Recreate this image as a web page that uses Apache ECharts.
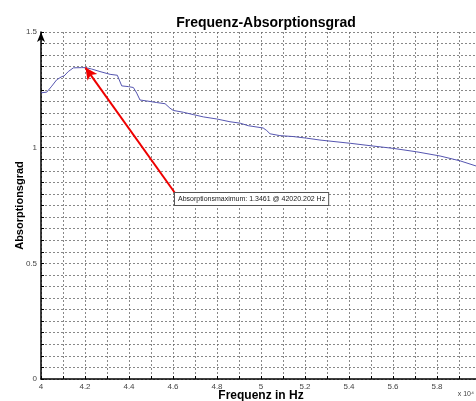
<!DOCTYPE html>
<html>
<head>
<meta charset="utf-8">
<script src="https://cdn.jsdelivr.net/npm/echarts@6/dist/echarts.min.js"></script>
<style>html,body{margin:0;padding:0;background:#fff;}#c{width:476px;height:401px;}</style>
</head>
<body>
<div id="c"></div>
<script>
// frequency in units of 10^4 Hz
const freq = [4.000,4.008,4.026,4.049,4.071,4.094,4.105,4.124,4.147,4.185,4.202,4.230,4.268,4.314,4.347,4.367,4.397,4.420,4.435,4.450,4.480,4.526,4.564,4.586,4.601,4.647,4.692,4.738,4.799,4.859,4.905,4.942,5.010,5.026,5.041,5.086,5.147,5.208,5.268,5.405,5.510,5.601,5.708,5.814,5.905,5.977,6.000];
const absorption = [1.237,1.237,1.240,1.266,1.293,1.307,1.310,1.329,1.345,1.346,1.3461,1.340,1.329,1.317,1.313,1.267,1.264,1.260,1.236,1.206,1.202,1.195,1.190,1.171,1.161,1.153,1.143,1.133,1.124,1.112,1.106,1.095,1.085,1.074,1.060,1.052,1.048,1.041,1.033,1.019,1.007,0.997,0.982,0.964,0.943,0.921,0.913];
const peak = [4.2020202, 1.3461];
const annotAnchor = [4.609, 0.804];
const annotText = 'Absorptionsmaximum: 1.3461 @ 42020.202 Hz';
const xTicks = [4,4.2,4.4,4.6,4.8,5,5.2,5.4,5.6,5.8,6];
const yTicks = [0,0.5,1,1.5];

const chart = echarts.init(document.getElementById('c'));
const gridStyle = {color:'#6a6a6a', type:[2,2], width:0.8};
chart.setOption({
  animation:false,
  backgroundColor:'#fff',
  title:{text:'Frequenz-Absorptionsgrad', left:261, textAlign:'center', top:11,
    textStyle:{fontFamily:'Liberation Sans, Arial', fontSize:14, fontWeight:'bold', color:'#000'}},
  grid:{left:41, top:32, width:440, height:347, containLabel:false, outerBoundsMode:'none'},
  xAxis:{type:'value', min:4, max:6, interval:0.1,
    name:'Frequenz in Hz', nameLocation:'middle', nameGap:11, nameMoveOverlap:false,
    nameTextStyle:{fontFamily:'Liberation Sans, Arial', fontSize:12, fontWeight:'bold', color:'#000'},
    axisLine:{show:true, onZero:false, lineStyle:{color:'#000', width:1.5}},
    axisTick:{show:true, inside:true, length:3, lineStyle:{color:'#000'}},
    axisLabel:{fontFamily:'Liberation Sans, Arial', fontSize:8, color:'#444', margin:4,
      customValues: xTicks, formatter:v=>String(Math.round(v*10)/10)},
    splitLine:{show:true, lineStyle:gridStyle}
  },
  yAxis:{type:'value', min:0, max:1.5, interval:0.05,
    name:'Absorptionsgrad', nameLocation:'middle', nameGap:16, nameRotate:90, nameMoveOverlap:false,
    nameTextStyle:{fontFamily:'Liberation Sans, Arial', fontSize:11, fontWeight:'bold', color:'#000'},
    axisLine:{show:true, lineStyle:{color:'#000', width:1.5}, symbol:['none','arrow'], symbolSize:[6,10]},
    axisTick:{show:true, inside:true, length:3, lineStyle:{color:'#000'}},
    axisLabel:{fontFamily:'Liberation Sans, Arial', fontSize:8, color:'#444', margin:4,
      customValues: yTicks, formatter:v=>String(v)},
    splitLine:{show:true, lineStyle:gridStyle}
  },
  graphic:[{type:'text', right:2, top:391, style:{text:'x 10⁴', fontSize:7, fill:'#444', fontFamily:'Liberation Sans, Arial'}}],
  series:[{
    type:'line', data:freq.map((f,i)=>[f,absorption[i]]), showSymbol:false, symbol:'none',
    lineStyle:{color:'#5555b0', width:1}, z:3,
    markLine:{silent:true, symbol:['none','arrow'], symbolSize:[9,12], precision:4,
      lineStyle:{color:'#ee0000', width:2, type:'solid'}, label:{show:false},
      data:[[{coord:annotAnchor},{coord:peak}]]},
    markPoint:{silent:true, symbol:'rect', symbolSize:0,
      data:[{coord:annotAnchor, label:{show:true, position:[0,0], formatter:annotText,
        fontFamily:'Liberation Sans, Arial', fontSize:7, color:'#222', backgroundColor:'#fff',
        borderColor:'#555', borderWidth:1, padding:[2,3,2,3], lineHeight:8, align:'left', verticalAlign:'top'}}]}
  }]
});
</script>
</body>
</html>
